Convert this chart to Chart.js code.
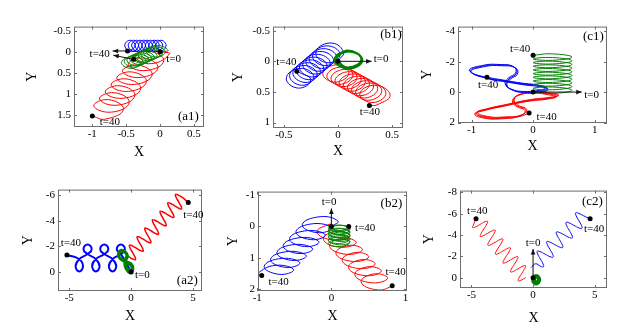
<!DOCTYPE html>
<html lang="en">
<head>
    <meta charset="UTF-8">
    <title>Trajectories (a1)-(c2)</title>
    <script src="https://cdn.jsdelivr.net/npm/chart.js"></script>
    <style>
        body { margin: 0; background: #fff; }
        #wrap { position: relative; width: 629px; height: 335px; overflow: hidden; }
        #wrap canvas { position: absolute; }
    </style>
</head>
<body>
    <div id="wrap"></div>

    <script>
        // ---- tick values ----
        const a1X = [-1, -0.5, 0, 0.5], a1Y = [-0.5, 0, 0.5, 1, 1.5];
        const b1X = [-0.5, 0, 0.5], b1Y = [-0.5, 0, 0.5, 1];
        const c1X = [-1, 0, 1], c1Y = [-4, -2, 0, 2];
        const a2X = [-5, 0, 5], a2Y = [-6, -4, -2, 0];
        const b2X = [-1, 0, 1], b2Y = [-1, 0, 1, 2];
        const c2X = [-5, 0, 5], c2Y = [-8, -6, -4, -2, 0];

        // ---- (a1) ----
        const a1Red = [[0,0],[0.14,0.05],[-0.121,0.281],[-0.383,0.133],[-0.164,-0.016],[0.055,0.215],[-0.206,0.446],[-0.468,0.298],[-0.249,0.149],[-0.03,0.38],[-0.291,0.611],[-0.553,0.463],[-0.334,0.314],[-0.115,0.545],[-0.376,0.776],[-0.638,0.628],[-0.419,0.479],[-0.2,0.71],[-0.461,0.941],[-0.723,0.793],[-0.504,0.644],[-0.285,0.875],[-0.546,1.106],[-0.808,0.958],[-0.589,0.809],[-0.37,1.04],[-0.631,1.271],[-0.893,1.123],[-0.674,0.974],[-0.455,1.205],[-0.716,1.436],[-0.978,1.288],[-0.759,1.139],[-0.54,1.37],[-0.801,1.601],[-1.0,1.53]];
        const a1Blue = [[0,0],[0.04,-0.005],[-0.061,-0.14],[0.015,-0.275],[0.09,-0.14],[-0.011,-0.005],[-0.112,-0.14],[-0.037,-0.275],[0.039,-0.14],[-0.062,-0.005],[-0.163,-0.14],[-0.088,-0.275],[-0.012,-0.14],[-0.113,-0.005],[-0.214,-0.14],[-0.139,-0.275],[-0.063,-0.14],[-0.164,-0.005],[-0.265,-0.14],[-0.19,-0.275],[-0.114,-0.14],[-0.215,-0.005],[-0.316,-0.14],[-0.241,-0.275],[-0.165,-0.14],[-0.266,-0.005],[-0.367,-0.14],[-0.292,-0.275],[-0.216,-0.14],[-0.317,-0.005],[-0.418,-0.14],[-0.343,-0.275],[-0.267,-0.14],[-0.368,-0.005],[-0.469,-0.14],[-0.394,-0.275],[-0.318,-0.14],[-0.419,-0.005],[-0.52,-0.14],[-0.445,-0.275],[-0.369,-0.14],[-0.47,-0.005],[-0.48,-0.02]];
        const a1Green = [[0,0],[0.12,-0.03],[-0.04,-0.153],[-0.201,-0.015],[-0.061,0.123],[0.079,0],[-0.081,-0.123],[-0.242,0.015],[-0.102,0.153],[0.038,0.03],[-0.122,-0.093],[-0.283,0.045],[-0.143,0.183],[-0.003,0.06],[-0.163,-0.063],[-0.324,0.075],[-0.184,0.213],[-0.044,0.09],[-0.204,-0.033],[-0.365,0.105],[-0.225,0.243],[-0.085,0.12],[-0.245,-0.003],[-0.406,0.135],[-0.266,0.273],[-0.126,0.15],[-0.286,0.028],[-0.447,0.165],[-0.307,0.303],[-0.167,0.18],[-0.327,0.058],[-0.488,0.195],[-0.348,0.333],[-0.208,0.21],[-0.368,0.088],[-0.529,0.225],[-0.389,0.363],[-0.249,0.24],[-0.409,0.118],[-0.57,0.255],[-0.43,0.393],[-0.29,0.27],[-0.39,0.18]];
        const a1Dots = [[0,0],[-0.48,-0.02],[-0.39,0.18],[-1.0,1.53]];
        const a1Arrows = [[-0.48,-0.02,-0.70,-0.02],[-0.39,0.18,-0.69,0.08]];
        const a1Labels = [['t=40',-0.89,0.06,'center'],['t=0',0.2,0.18,'center'],['t=40',-0.74,1.67,'center']];

        // ---- (b1) ----
        const b1Blue = [[0,0],[0.05,-0.16],[-0.078,-0.299],[-0.205,-0.137],[-0.093,0.024],[0.02,-0.114],[-0.108,-0.253],[-0.235,-0.091],[-0.123,0.07],[-0.01,-0.068],[-0.138,-0.207],[-0.266,-0.045],[-0.153,0.116],[-0.041,-0.023],[-0.168,-0.161],[-0.296,0],[-0.183,0.162],[-0.071,0.023],[-0.199,-0.115],[-0.326,0.046],[-0.214,0.208],[-0.101,0.069],[-0.229,-0.069],[-0.356,0.092],[-0.244,0.254],[-0.131,0.115],[-0.259,-0.024],[-0.387,0.138],[-0.274,0.299],[-0.162,0.161],[-0.289,0.022],[-0.417,0.184],[-0.304,0.345],[-0.192,0.207],[-0.32,0.068],[-0.447,0.23],[-0.335,0.391],[-0.222,0.253],[-0.35,0.114],[-0.477,0.276],[-0.365,0.437],[-0.252,0.298],[-0.38,0.16]];
        const b1Red = [[0,0],[-0.04,0.02],[0.1,0.179],[-0.021,0.339],[-0.141,0.198],[-0.002,0.057],[0.138,0.216],[0.017,0.376],[-0.103,0.235],[0.036,0.094],[0.176,0.254],[0.055,0.413],[-0.065,0.272],[0.074,0.131],[0.214,0.291],[0.093,0.45],[-0.027,0.309],[0.112,0.169],[0.252,0.328],[0.131,0.487],[0.011,0.346],[0.15,0.206],[0.29,0.365],[0.17,0.524],[0.049,0.384],[0.189,0.243],[0.328,0.402],[0.208,0.561],[0.087,0.421],[0.227,0.28],[0.366,0.439],[0.246,0.599],[0.125,0.458],[0.265,0.317],[0.404,0.476],[0.284,0.636],[0.163,0.495],[0.303,0.354],[0.442,0.514],[0.322,0.673],[0.201,0.532],[0.341,0.391],[0.481,0.551],[0.36,0.71],[0.29,0.72]];
        const b1Green = [[0,0],[0.095,0.11],[0.22,-0.03],[0.095,-0.17],[-0.03,-0.03],[0.095,0.12],[0.225,-0.02],[0.1,-0.16],[-0.025,-0.02],[0.09,0.1],[0.215,-0.035],[0.09,-0.175],[-0.03,-0.04]];
        const b1Dots = [[0,0],[-0.38,0.16],[0.29,0.72]];
        const b1Arrows = [[0,0,0.31,0]];
        const b1Labels = [['t=0',0.33,-0.03,'left'],['t=40',-0.57,0.01,'left'],['t=40',0.2,0.83,'left']];

        // ---- (c1) ----
        const c1Green = [[0,0],[0.315,0.09],[0.63,-0.121],[0.315,-0.332],[0,-0.242],[0.315,-0.153],[0.63,-0.363],[0.315,-0.574],[0,-0.484],[0.315,-0.395],[0.63,-0.605],[0.315,-0.816],[0,-0.726],[0.315,-0.637],[0.63,-0.847],[0.315,-1.058],[0,-0.968],[0.315,-0.879],[0.63,-1.089],[0.315,-1.3],[0,-1.21],[0.315,-1.121],[0.63,-1.331],[0.315,-1.542],[0,-1.452],[0.315,-1.363],[0.63,-1.573],[0.315,-1.784],[0,-1.694],[0.315,-1.605],[0.63,-1.815],[0.315,-2.026],[0,-1.936],[0.315,-1.847],[0.63,-2.057],[0.315,-2.268],[0,-2.178],[0.315,-2.089],[0.63,-2.299],[0.315,-2.51],[0,-2.42]];
        const c1Blue = [[0,0],
            [0.145,0],[0.245,-0.18],[0.145,-0.33],[-0.155,-0.48],[-0.455,-0.68],[-0.705,-0.85],[-1.005,-1.33],[-0.805,-1.66],[-0.505,-1.73],[-0.285,-1.58],[-0.255,-1.18],[-0.375,-0.83],[-0.425,-0.48],[-0.335,-0.13],[-0.105,0.04],
            [0.13,-0.04],[0.23,-0.22],[0.13,-0.37],[-0.17,-0.52],[-0.47,-0.72],[-0.72,-0.89],[-1.02,-1.37],[-0.82,-1.7],[-0.52,-1.77],[-0.3,-1.62],[-0.27,-1.22],[-0.39,-0.87],[-0.44,-0.52],[-0.35,-0.17],[-0.12,0],
            [0.115,-0.08],[0.215,-0.26],[0.115,-0.41],[-0.185,-0.56],[-0.485,-0.76],[-0.735,-0.93],[-1.035,-1.41],[-0.835,-1.74],[-0.535,-1.81],[-0.315,-1.66],[-0.285,-1.26],[-0.405,-0.91],[-0.455,-0.56],[-0.365,-0.21],[-0.135,-0.04],
            [0.1,-0.12],[0.2,-0.3],[0.1,-0.45],[-0.2,-0.6],[-0.5,-0.8],[-0.75,-0.97]];
        const c1Red = [[0,0],
            [0.295,0.06],[0.415,0.2],[0.295,0.33],[-0.055,0.5],[-0.455,0.83],[-0.735,1.08],[-0.905,1.33],[-0.735,1.6],[-0.455,1.63],[-0.175,1.48],[-0.105,1.13],[-0.255,0.83],[-0.305,0.48],[-0.205,0.13],[0.045,0],
            [0.28,0.1],[0.4,0.24],[0.28,0.37],[-0.07,0.54],[-0.47,0.87],[-0.75,1.12],[-0.92,1.37],[-0.75,1.64],[-0.47,1.67],[-0.19,1.52],[-0.12,1.17],[-0.27,0.87],[-0.32,0.52],[-0.22,0.17],[0.03,0.04],
            [0.265,0.14],[0.385,0.28],[0.265,0.41],[-0.085,0.58],[-0.485,0.91],[-0.765,1.16],[-0.935,1.41],[-0.765,1.68],[-0.485,1.71],[-0.205,1.56],[-0.135,1.21],[-0.285,0.91],[-0.335,0.56],[-0.235,0.21],[0.015,0.08],
            [0.25,0.18],[0.37,0.32],[0.25,0.45],[-0.1,0.62],[-0.5,0.95],[-0.78,1.2],[-0.95,1.45],[-0.78,1.72],[-0.5,1.75],[-0.22,1.6],[-0.065,1.38]];
        const c1Dots = [[0,0],[0,-2.42],[-0.75,-0.97],[-0.065,1.38]];
        const c1Arrows = [[0,0,0.79,0]];
        const c1Labels = [['t=40',-0.21,-2.8,'center'],['t=40',-0.73,-0.44,'center'],['t=40',0.22,1.64,'center'],['t=0',0.95,0.21,'center']];

        // ---- (a2) ----
        const a2Blue = [[0,0],[-0.45,-0.8],
            [-0.83,-1.4],[-1.16,-1.78],[-0.83,-2.15],[-0.5,-1.78],[-0.83,-1.4],
            [-1.5,-1.0],[-1.8,-0.45],[-1.5,-0.05],[-1.2,-0.45],[-1.5,-1.0],
            [-2.17,-1.4],[-2.5,-1.78],[-2.17,-2.15],[-1.84,-1.78],[-2.17,-1.4],
            [-2.85,-1.0],[-3.15,-0.45],[-2.85,-0.05],[-2.55,-0.45],[-2.85,-1.0],
            [-3.52,-1.4],[-3.85,-1.78],[-3.52,-2.15],[-3.19,-1.78],[-3.52,-1.4],
            [-4.19,-1.0],[-4.49,-0.45],[-4.19,-0.05],[-3.89,-0.45],[-4.19,-1.0],
            [-5.19,-1.33]];
        const a2Red = [[-0.2,-1.2],[0.161,-1.0],[0.355,-0.965],[0.316,-1.165],[0.11,-1.53],[-0.096,-1.896],[-0.135,-2.095],[0.06,-2.061],
            [0.42,-1.86],[0.781,-1.66],[0.975,-1.625],[0.936,-1.825],[0.73,-2.19],[0.525,-2.556],[0.485,-2.755],[0.68,-2.721],
            [1.04,-2.52],[1.401,-2.32],[1.595,-2.285],[1.556,-2.485],[1.35,-2.85],[1.145,-3.216],[1.105,-3.415],[1.3,-3.381],
            [1.66,-3.18],[2.021,-2.98],[2.215,-2.945],[2.176,-3.145],[1.97,-3.51],[1.765,-3.876],[1.725,-4.075],[1.92,-4.041],
            [2.28,-3.84],[2.641,-3.64],[2.835,-3.605],[2.796,-3.805],[2.59,-4.17],[2.385,-4.536],[2.345,-4.735],[2.54,-4.701],
            [2.9,-4.5],[3.261,-4.3],[3.455,-4.265],[3.416,-4.465],[3.21,-4.83],[3.005,-5.196],[2.965,-5.395],[3.16,-5.361],
            [3.52,-5.16],[3.881,-4.96],[4.075,-4.925],[4.036,-5.125],[3.83,-5.49],[3.625,-5.856],[3.585,-6.055],[3.78,-6.021],
            [4.14,-5.82],[4.62,-5.42]];
        const a2Green = [[0,0],[-0.4,-0.35],[-0.45,-0.85],[-0.3,-1.3],[-0.8,-1.7],[-1.0,-1.2],[-0.45,-0.85],[0.1,-0.5],[0,0],
            [-0.42,-0.3],[-0.5,-0.85],[-0.35,-1.35],[-0.85,-1.65],[-0.95,-1.15],[-0.5,-0.8],[0.05,-0.45],[-0.05,0.05],[-0.45,-0.4],[-0.45,-0.9]];
        const a2Dots = [[0,0],[-5.19,-1.33],[4.62,-5.42]];
        const a2Arrows = [];
        const a2Labels = [['t=40',-4.87,-2.25,'center'],['t=40',5.03,-4.47,'center'],['t=0',0.91,0.26,'center']];

        // ---- (b2) ----
        const b2Blue = [[0,0],[0.09,-0.17],[-0.151,-0.314],[-0.393,-0.059],[-0.194,0.197],[0.004,0.053],[-0.237,-0.092],[-0.478,0.164],[-0.28,0.42],[-0.081,0.276],[-0.323,0.131],[-0.564,0.387],[-0.365,0.643],[-0.167,0.498],[-0.408,0.354],[-0.65,0.61],[-0.451,0.866],[-0.252,0.721],[-0.494,0.577],[-0.735,0.833],[-0.537,1.088],[-0.338,0.944],[-0.579,0.8],[-0.821,1.055],[-0.622,1.311],[-0.424,1.167],[-0.665,1.023],[-0.906,1.278],[-0.708,1.534],[-0.509,1.39],[-0.751,1.245],[-0.992,1.501],[-0.94,1.57]];
        const b2Red = [[0,0],[-0.015,-0.08],[-0.194,0.177],[0.028,0.434],[0.249,0.291],[0.07,0.149],[-0.109,0.406],[0.113,0.663],[0.334,0.52],[0.155,0.377],[-0.024,0.634],[0.198,0.891],[0.419,0.749],[0.24,0.606],[0.061,0.863],[0.283,1.12],[0.504,0.977],[0.325,0.834],[0.146,1.091],[0.368,1.349],[0.589,1.206],[0.41,1.063],[0.231,1.32],[0.453,1.577],[0.674,1.434],[0.495,1.291],[0.316,1.549],[0.538,1.806],[0.759,1.663],[0.58,1.52],[0.401,1.777],[0.623,2.034],[0.844,1.891],[0.82,1.9]];
        const b2Green = [[-0.04,0],[0.106,0.148],[0.25,0.055],[0.106,-0.038],[-0.04,0.11],[0.106,0.258],[0.25,0.165],[0.106,0.073],[-0.04,0.22],[0.106,0.368],[0.25,0.275],[0.106,0.183],[-0.04,0.33],[0.106,0.478],[0.25,0.385],[0.106,0.293],[-0.04,0.44],[0.106,0.588],[0.25,0.495],[0.106,0.403],[-0.04,0.55],[0.106,0.645],[0.25,0.5],[0.106,0.355],[-0.04,0.45],[0.106,0.545],[0.25,0.4],[0.106,0.255],[-0.04,0.35],[0.106,0.445],[0.25,0.3],[0.106,0.155],[-0.04,0.25],[0.106,0.345],[0.25,0.2],[0.106,0.055],[-0.04,0.15],[0.106,0.245],[0.25,0.1],[0.106,-0.045],[-0.04,0.05],[0.106,0.145],[0.25,0]];
        const b2Dots = [[0,0],[0.234,0],[0.82,1.9],[-0.94,1.57]];
        const b2Arrows = [[0,0,0,-0.58]];
        const b2Labels = [['t=0',-0.03,-0.77,'center'],['t=40',0.32,0.04,'left'],['t=40',0.73,1.47,'left'],['t=40',-0.85,1.8,'left']];

        // ---- (c2) ----
        const c2Red = [[-0.6,0],[-0.995,0.25],[-1.204,0.292],[-1.149,0.042],[-0.908,-0.416],[-0.667,-0.874],[-0.612,-1.124],[-0.821,-1.082],
            [-1.216,-0.832],[-1.611,-0.582],[-1.82,-0.54],[-1.765,-0.79],[-1.524,-1.248],[-1.283,-1.706],[-1.228,-1.956],[-1.437,-1.914],
            [-1.832,-1.664],[-2.227,-1.414],[-2.436,-1.372],[-2.381,-1.622],[-2.14,-2.08],[-1.899,-2.538],[-1.844,-2.788],[-2.053,-2.746],
            [-2.448,-2.496],[-2.843,-2.246],[-3.052,-2.204],[-2.997,-2.454],[-2.756,-2.912],[-2.515,-3.37],[-2.46,-3.62],[-2.669,-3.578],
            [-3.064,-3.328],[-3.459,-3.078],[-3.668,-3.036],[-3.613,-3.286],[-3.372,-3.744],[-3.131,-4.202],[-3.076,-4.452],[-3.285,-4.41],
            [-3.68,-4.16],[-4.075,-3.91],[-4.284,-3.868],[-4.229,-4.118],[-3.988,-4.576],[-3.747,-5.034],[-3.692,-5.284],[-3.901,-5.242],
            [-4.296,-4.992],[-4.691,-4.742],[-4.9,-4.7],[-4.845,-4.95],[-4.63,-5.52]];
        const c2Blue = [[-0.15,-0.95],[0.2,-1.3],[0.616,-1.059],[0.845,-1.025],[0.811,-1.284],[0.59,-1.75],[0.37,-2.217],[0.335,-2.475],[0.565,-2.442],
            [0.98,-2.2],[1.396,-1.959],[1.625,-1.925],[1.591,-2.184],[1.37,-2.65],[1.15,-3.117],[1.115,-3.375],[1.345,-3.342],
            [1.76,-3.1],[2.176,-2.859],[2.405,-2.825],[2.371,-3.084],[2.15,-3.55],[1.93,-4.017],[1.895,-4.275],[2.125,-4.242],
            [2.54,-4.0],[2.956,-3.759],[3.185,-3.725],[3.151,-3.984],[2.93,-4.45],[2.71,-4.917],[2.675,-5.175],[2.905,-5.142],
            [3.32,-4.9],[3.736,-4.659],[3.965,-4.625],[3.931,-4.884],[3.71,-5.35],[3.49,-5.817],[3.455,-6.075],[3.685,-6.042],
            [4.1,-5.8],[4.63,-5.52]];
        const c2Green = [[0,0],[0.25,0.5],[0.5,0.2],[0.25,-0.15],[0,0.2],[0.25,0.55],[0.48,0.2],[0.25,-0.1],[0.02,0.22],[0.25,0.45]];
        const c2Dots = [[0,0],[-4.63,-5.52],[4.63,-5.52]];
        const c2Arrows = [[0,0,0,-2.69]];
        const c2Labels = [['t=40',-4.53,-6.23,'center'],['t=40',4.96,-4.54,'center'],['t=0',0,-3.25,'center']];

        const RED = '#ff0000', BLUE = '#0000ff', GREEN = '#008000';
        const FONT = 'Liberation Serif';
        Chart.defaults.font.family = FONT;

        // panel layout: box = [left, top, right, bottom] of the plot frame in page pixels
        const panels = [
            { box: [74, 25, 204, 127], yOff: 41.5, xOff: 26, xr: [-1.27, 0.65], yr: [-0.6, 1.79], xt: a1X, yt: a1Y,
              series: [[a1Green, GREEN, 1], [a1Blue, BLUE, 1], [a1Red, RED, 1]], dots: a1Dots, arrows: a1Arrows, labels: a1Labels, tag: ['(a1)', 0.42, 1.54] },
            { box: [273, 25, 403, 128], yOff: 35, xOff: 24, xr: [-0.6, 0.6], yr: [-0.567, 1.088], xt: b1X, yt: b1Y,
              series: [[b1Green, GREEN, 2], [b1Blue, BLUE, 1], [b1Red, RED, 1]], dots: b1Dots, arrows: b1Arrows, labels: b1Labels, tag: ['(b1)', 0.49, -0.43] },
            { box: [458, 25, 607, 123], yOff: 31, xOff: 23.5, xr: [-1.22, 1.2], yr: [-4.3, 2.03], xt: c1X, yt: c1Y,
              series: [[c1Green, GREEN, 1], [c1Blue, BLUE, 1], [c1Red, RED, 1]], dots: c1Dots, arrows: c1Arrows, labels: c1Labels, tag: ['(c1)', 0.98, -3.65] },
            { box: [58, 188, 202, 291], yOff: 30, xOff: 25.7, xr: [-5.91, 5.73], yr: [-6.43, 1.48], xt: a2X, yt: a2Y,
              series: [[a2Green, GREEN, 3], [a2Blue, BLUE, 2], [a2Red, RED, 1.5]], dots: a2Dots, arrows: a2Arrows, labels: a2Labels, tag: ['(a2)', 4.54, 0.64] },
            { box: [258, 190, 407, 291], yOff: 25, xOff: 26, xr: [-0.99, 1.02], yr: [-1.12, 2.07], xt: b2X, yt: b2Y,
              series: [[b2Green, GREEN, 1], [b2Blue, BLUE, 1], [b2Red, RED, 1]], dots: b2Dots, arrows: b2Arrows, labels: b2Labels, tag: ['(b2)', 0.81, -0.75] },
            { box: [460, 189, 607, 288], yOff: 31, xOff: 31, xr: [-5.93, 6.0], yr: [-8.16, 0.97], xt: c2X, yt: c2Y,
              series: [[c2Green, GREEN, 4], [c2Blue, BLUE, 1], [c2Red, RED, 1]], dots: c2Dots, arrows: c2Arrows, labels: c2Labels, tag: ['(c2)', 4.82, -7.15] }
        ];

        const PADT = 8, PADR = 12;
        const toXY = ([x, y]) => ({ x, y });

        // frame, inner ticks, arrows and text notes
        function decor(p) {
            return {
                id: 'decor',
                afterDatasetsDraw(chart) {
                    const { ctx, chartArea: a, scales } = chart;
                    const px = v => scales.x.getPixelForValue(v);
                    const py = v => scales.y.getPixelForValue(v);
                    ctx.save();
                    ctx.strokeStyle = '#6e6e6e';
                    ctx.lineWidth = 1;
                    ctx.strokeRect(a.left + 0.5, a.top + 0.5, a.width - 1, a.height - 1);
                    ctx.beginPath();
                    p.xt.forEach(v => {
                        const X = Math.round(px(v)) + 0.5;
                        ctx.moveTo(X, a.bottom); ctx.lineTo(X, a.bottom - 3);
                        ctx.moveTo(X, a.top); ctx.lineTo(X, a.top + 3);
                    });
                    p.yt.forEach(v => {
                        const Y = Math.round(py(v)) + 0.5;
                        ctx.moveTo(a.left, Y); ctx.lineTo(a.left + 3, Y);
                        ctx.moveTo(a.right, Y); ctx.lineTo(a.right - 3, Y);
                    });
                    ctx.stroke();

                    ctx.strokeStyle = '#111';
                    ctx.fillStyle = '#111';
                    p.arrows.forEach(([x0, y0, x1, y1]) => {
                        const X0 = px(x0), Y0 = py(y0), X1 = px(x1), Y1 = py(y1);
                        const ang = Math.atan2(Y1 - Y0, X1 - X0);
                        ctx.beginPath(); ctx.moveTo(X0, Y0); ctx.lineTo(X1, Y1); ctx.stroke();
                        ctx.beginPath();
                        ctx.moveTo(X1, Y1);
                        ctx.lineTo(X1 - 6 * Math.cos(ang - 0.4), Y1 - 6 * Math.sin(ang - 0.4));
                        ctx.lineTo(X1 - 6 * Math.cos(ang + 0.4), Y1 - 6 * Math.sin(ang + 0.4));
                        ctx.closePath(); ctx.fill();
                    });

                    ctx.fillStyle = '#000';
                    ctx.textBaseline = 'middle';
                    ctx.font = `11px "${FONT}"`;
                    p.labels.forEach(([t, x, y, al]) => {
                        ctx.textAlign = al;
                        ctx.fillText(t, px(x), py(y));
                    });
                    ctx.font = `13px "${FONT}"`;
                    ctx.textAlign = 'center';
                    ctx.fillText(p.tag[0], px(p.tag[1]), py(p.tag[2]));
                    ctx.restore();
                }
            };
        }

        const wrap = document.getElementById('wrap');
        panels.forEach(p => {
            const [L, T, R, B] = p.box;
            const W = Math.round(p.yOff + 8.4), H = Math.round(p.xOff + 8.4);
            const cv = document.createElement('canvas');
            cv.width = R - L + W + PADR;
            cv.height = B - T + PADT + H;
            cv.style.left = (L - W) + 'px';
            cv.style.top = (T - PADT) + 'px';
            wrap.appendChild(cv);

            const datasets = [{
                data: p.dots.map(toXY), showLine: false, pointRadius: 2.5,
                pointBackgroundColor: '#000', pointBorderWidth: 0
            }];
            p.series.forEach(([d, c, w]) => datasets.push({
                data: d.map(toXY), showLine: true, borderColor: c, borderWidth: w,
                pointRadius: 0, tension: 0.5, fill: false
            }));

            const tickFont = { family: FONT, size: 11 };
            const titleFont = { family: FONT, size: 14 };
            new Chart(cv, {
                type: 'scatter',
                data: { datasets },
                options: {
                    responsive: false, animation: false, events: [],
                    layout: { padding: { top: PADT, right: PADR, left: 0, bottom: 0 } },
                    plugins: { legend: { display: false }, tooltip: { enabled: false } },
                    scales: {
                        x: {
                            type: 'linear', min: p.xr[0], max: p.xr[1],
                            grid: { display: false, drawTicks: false }, border: { display: false },
                            afterBuildTicks: s => { s.ticks = p.xt.map(v => ({ value: v })); },
                            afterFit: s => { s.height = H; },
                            ticks: { font: tickFont, color: '#000', padding: 1, maxRotation: 0, autoSkip: false, callback: v => String(v) },
                            title: { display: true, text: 'X', font: titleFont, color: '#000', padding: 0 }
                        },
                        y: {
                            type: 'linear', min: p.yr[0], max: p.yr[1], reverse: true,
                            grid: { display: false, drawTicks: false }, border: { display: false },
                            afterBuildTicks: s => { s.ticks = p.yt.map(v => ({ value: v })); },
                            afterFit: s => { s.width = W; },
                            ticks: { font: tickFont, color: '#000', padding: 3, autoSkip: false, callback: v => String(v) },
                            title: { display: true, text: 'Y', font: titleFont, color: '#000', padding: 0 }
                        }
                    }
                },
                plugins: [decor(p)]
            });
        });
    </script>
</body>
</html>
